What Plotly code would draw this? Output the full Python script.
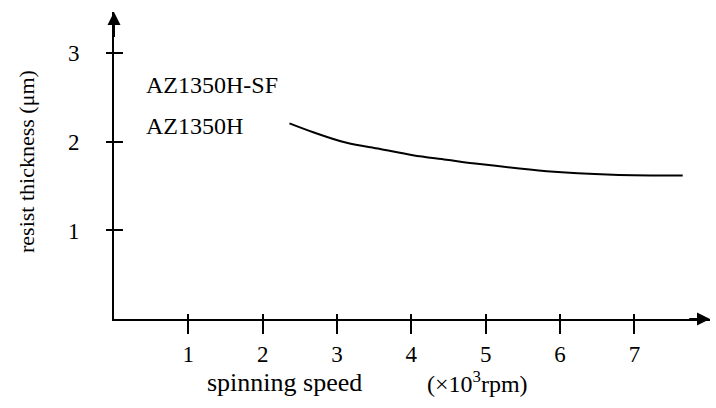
import plotly.graph_objects as go

# data
speed = [2.36, 2.68, 3.13, 3.58, 4.02, 4.47, 4.92, 5.82, 6.71, 7.65]
thickness = [2.21, 2.11, 1.99, 1.92, 1.85, 1.80, 1.75, 1.67, 1.63, 1.62]
x_ticks = [1, 2, 3, 4, 5, 6, 7]
y_ticks = [1, 2, 3]
labels = ["AZ1350H-SF", "AZ1350H"]

FONT = "Liberation Serif, Times New Roman, serif"
XMAX = 8.017
YMAX = 3.468
L, R, T, B = 114, 6, 12, 89
PW, PH = 716 - L - R, 408 - T - B


def px(xp):
    return (xp - L) / PW


def py(yp):
    return (408 - B - yp) / PH


fig = go.Figure()
fig.add_trace(go.Scatter(x=speed, y=thickness, mode="lines",
                         line=dict(color="black", width=2, shape="spline",
                                   smoothing=1.0),
                         showlegend=False, hoverinfo="skip"))
fig.add_trace(go.Scatter(x=[], y=[], xaxis="x2", yaxis="y2", showlegend=False))

axis_common = dict(showgrid=False, zeroline=False, color="black")
fig.update_layout(
    width=716, height=408,
    margin=dict(l=L, r=R, t=T, b=B),
    paper_bgcolor="white", plot_bgcolor="white",
    font=dict(family=FONT, size=23, color="black"),
    xaxis=dict(range=[0, XMAX], tickvals=x_ticks, ticks="outside", ticklen=13,
               tickwidth=2, tickcolor="black", showline=True, linewidth=2,
               linecolor="black", ticklabelstandoff=0, **axis_common),
    yaxis=dict(range=[0, YMAX], tickvals=y_ticks, ticks="outside", ticklen=6,
               tickwidth=2, tickcolor="black", showline=True, linewidth=2,
               linecolor="black", ticklabelstandoff=22, **axis_common),
    xaxis2=dict(range=[0, XMAX], overlaying="x", anchor="y2", tickvals=x_ticks,
                ticks="inside", ticklen=5, tickwidth=2, tickcolor="black",
                showticklabels=False, showline=False, **axis_common),
    yaxis2=dict(range=[0, YMAX], overlaying="y", anchor="x2", tickvals=y_ticks,
                ticks="inside", ticklen=9, tickwidth=2, tickcolor="black",
                showticklabels=False, showline=False, **axis_common),
)

# axis arrowheads
fig.add_annotation(x=XMAX, y=0, ax=XMAX - 0.3, ay=0, xref="x", yref="y",
                   axref="x", ayref="y", showarrow=True, arrowhead=2,
                   arrowsize=1.3, arrowwidth=2, arrowcolor="black", text="")
fig.add_annotation(x=0, y=YMAX, ax=0, ay=YMAX - 0.3, xref="x", yref="y",
                   axref="x", ayref="y", showarrow=True, arrowhead=2,
                   arrowsize=1.3, arrowwidth=2, arrowcolor="black", text="")

# series labels
fig.add_annotation(x=0.4, y=2.64, xref="x", yref="y", text=labels[0],
                   showarrow=False, xanchor="left", yanchor="middle",
                   font=dict(size=24))
fig.add_annotation(x=0.4, y=2.18, xref="x", yref="y", text=labels[1],
                   showarrow=False, xanchor="left", yanchor="middle",
                   font=dict(size=24))

# axis titles
fig.add_annotation(x=px(205), y=py(382), xref="paper", yref="paper",
                   text="spinning speed", showarrow=False, xanchor="left",
                   yanchor="middle", font=dict(size=26))
fig.add_annotation(x=px(425), y=py(382), xref="paper", yref="paper",
                   text="(×10<sup>3</sup>rpm)", showarrow=False,
                   xanchor="left", yanchor="middle", font=dict(size=24))
fig.add_annotation(x=px(26), y=py(162), xref="paper", yref="paper",
                   text="resist thickness (μm)", textangle=-90,
                   showarrow=False, xanchor="center", yanchor="middle",
                   font=dict(size=22))

fig.write_html("out.html")
